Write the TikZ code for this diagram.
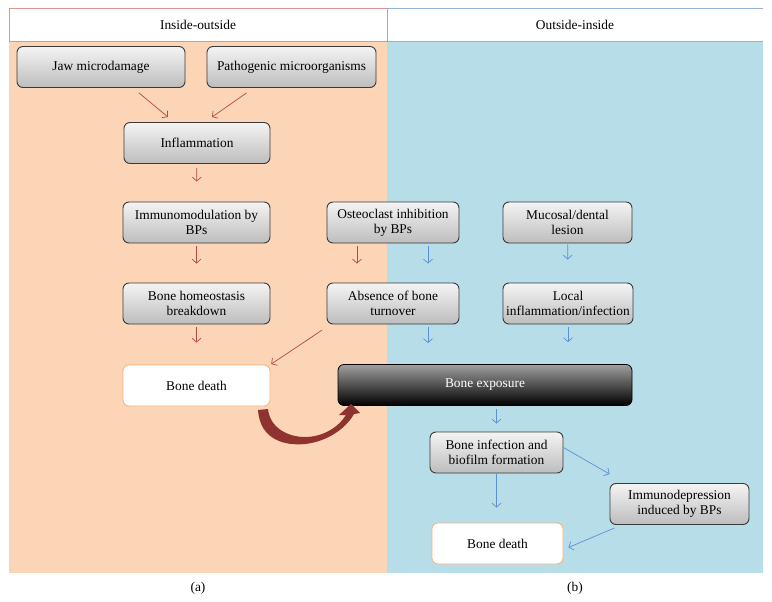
\documentclass[tikz,border=0pt]{standalone}
\usepackage{fontspec}
\setmainfont{Liberation Serif}
\usepackage{tikz}
\usetikzlibrary{calc,positioning,arrows,arrows.meta}
\definecolor{peach}{HTML}{FBD5B5}
\definecolor{aqua}{HTML}{B7DDE8}
\definecolor{redline}{HTML}{D99694}
\definecolor{blueline}{HTML}{95B3D7}
\definecolor{redarr}{HTML}{B54A45}
\definecolor{bluearr}{HTML}{5B8FD6}
\definecolor{bigarr}{HTML}{8E3330}
\definecolor{boxtop}{HTML}{F4F4F4}
\definecolor{boxbot}{HTML}{BDBDBD}
\definecolor{boxedge}{HTML}{3A3A3A}
\definecolor{deathedge}{HTML}{F2B27A}

\begin{document}
\begin{tikzpicture}[x=1pt,y=-1pt,>={Straight Barb[length=4pt,width=9pt]},
	font=\fontsize{13.4}{15}\selectfont,
	stage/.style={rectangle, rounded corners=6pt, draw=boxedge, line width=0.9pt,
		top color=boxtop, bottom color=boxbot, align=center, inner sep=1pt,
		minimum height=41pt},
	death/.style={rectangle, rounded corners=6pt, draw=deathedge, line width=0.8pt,
		fill=white, align=center, minimum height=41pt},
	redflow/.style={->, redarr, line width=0.7pt},
	blueflow/.style={->, bluearr, line width=0.7pt}]
	\useasboundingbox (0,0) rectangle (772,602);
	% panels
	\fill[peach] (9,41) rectangle (387,573);
	\fill[aqua] (387,41) rectangle (763,573);
	\draw[blueline, line width=0.6pt] (387,8) -- (763,8) (387,41) -- (763,41);
	\draw[redline, line width=0.6pt] (9,8) rectangle (387,41);
	\node (headL) at (198,25) {Inside-outside};
	\node (headR) at (575,25) {Outside-inside};
	\node (capA) at (198,588) {(a)};
	\node (capB) at (575,588) {(b)};
	% inside-outside
	\node (jaw) at (101,67) [stage, minimum width=168pt] {Jaw microdamage};
	\node (patho) at (291.5,67) [stage, minimum width=169pt] {Pathogenic microorganisms};
	\node (infl) at (197,143) [stage, minimum width=146pt] {Inflammation};
	\node (immuno) at (196.5,222.5) [stage, minimum width=147pt] {Immunomodulation by\\BPs};
	\node (osteo) at (393,222.5) [stage, minimum width=132pt] {Osteoclast inhibition\\by BPs};
	\node (homeo) at (196.5,303.5) [stage, minimum width=147pt] {Bone homeostasis\\breakdown};
	\node (absence) at (393,303.5) [stage, minimum width=132pt] {Absence of bone\\turnover};
	\node (deathL) at (196.5,385.5) [death, minimum width=147pt] {Bone death};
	% outside-inside
	\node (mucosal) at (567.5,222.5) [stage, minimum width=129pt] {Mucosal/dental\\lesion};
	\node (local) at (568,303.5) [stage, minimum width=130pt] {Local\\inflammation/infection};
	\node (exposure) at (485,385) [rectangle, rounded corners=6pt, draw=black, line width=0.8pt,
		top color=gray!75, bottom color=black, text=white, minimum width=294pt, minimum height=41pt] {Bone exposure};
	\node (biofilm) at (496.5,452.5) [stage, minimum width=133pt] {Bone infection and\\biofilm formation};
	\node (depress) at (679.5,504) [stage, minimum width=139pt] {Immunodepression\\induced by BPs};
	\node (deathR) at (497.5,543.5) [death, minimum width=131pt] {Bone death};

	\draw[redflow] ([xshift=38pt,yshift=-5pt]jaw.south) -- ([xshift=-29pt,yshift=5pt]infl.north);
	\draw[redflow] ([xshift=-45pt,yshift=-5pt]patho.south) -- ([xshift=15pt,yshift=5pt]infl.north);
	\draw[redflow, shorten <=4pt, shorten >=20pt] (infl) -- (immuno);
	\draw[redflow, shorten <=3pt, shorten >=19pt] (immuno) -- (homeo);
	\draw[redflow, shorten <=3pt, shorten >=22pt] (homeo) -- (deathL);
	\draw[redflow, shorten <=3pt, shorten >=19pt] ([xshift=-36pt]osteo.south) -- ([xshift=-36pt]absence.north);
	\draw[redflow, shorten <=3pt, shorten >=1pt] ([xshift=-2pt,yshift=-4pt]absence.south west) -- (deathL.north east);
	\draw[blueflow, shorten <=3pt, shorten >=19pt] ([xshift=35pt]osteo.south) -- ([xshift=35pt]absence.north);
	\draw[blueflow, shorten <=3pt, shorten >=21pt] ([xshift=35pt]absence.south) -- ([xshift=35pt]absence.south |- exposure.north);
	\draw[blueflow, shorten <=1pt, shorten >=23pt] (mucosal) -- (local);
	\draw[blueflow, shorten <=3pt, shorten >=22pt] (local.south) -- (local.south |- exposure.north);
	\draw[blueflow, shorten <=3pt, shorten >=8pt] (biofilm.north |- exposure.south) -- (biofilm.north);
	\draw[blueflow, shorten <=1pt, shorten >=15pt] (biofilm.south) -- (biofilm.south |- deathR.north);
	\draw[blueflow] ([yshift=5pt]biofilm.east) -- ([yshift=9pt]depress.north west);
	\draw[blueflow] ([xshift=5pt,yshift=-3pt]depress.south west) -- ([xshift=5pt,yshift=-4pt]deathR.east);
	% bone death turns into exposure
	\fill[bigarr] (258,410) .. controls (260,440) and (285,446) .. (305,444)
		.. controls (325,442) and (345,430) .. (354,414) -- (360,413) -- (351,404) -- (339,415) -- (346,415)
		.. controls (338,428) and (322,437) .. (305,437)
		.. controls (288,437) and (270,428) .. (268,409) -- cycle;
\end{tikzpicture}
\end{document}
